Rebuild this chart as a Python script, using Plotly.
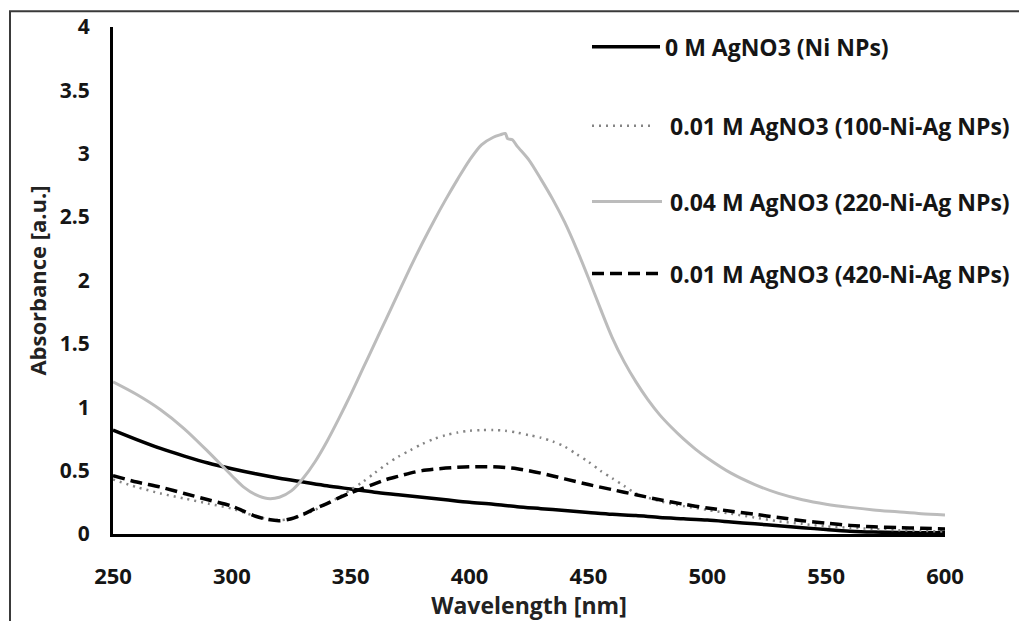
import plotly.graph_objects as go

# ---------------- data ----------------
names = [
    "0 M AgNO3 (Ni NPs)",
    "0.01 M AgNO3 (100-Ni-Ag NPs)",
    "0.04 M AgNO3 (220-Ni-Ag NPs)",
    "0.01 M AgNO3 (420-Ni-Ag NPs)",
]

wl_ni = [250, 260, 270, 280, 290, 300, 310, 320, 330, 340, 350, 360, 370, 380, 390,
         400, 410, 420, 430, 440, 450, 460, 470, 480, 490, 500, 510, 520, 530, 540,
         550, 560, 570, 580, 590, 600]
abs_ni = [0.82, 0.745, 0.675, 0.615, 0.56, 0.515, 0.475, 0.44, 0.41, 0.38, 0.355, 0.33,
          0.31, 0.29, 0.27, 0.25, 0.235, 0.215, 0.20, 0.185, 0.17, 0.155, 0.145, 0.13,
          0.12, 0.11, 0.095, 0.08, 0.065, 0.05, 0.035, 0.022, 0.015, 0.012, 0.01, 0.01]

wl_100 = [250, 260, 270, 280, 290, 300, 305, 310, 315, 320, 325, 330, 335, 340, 345, 350,
          355, 360, 365, 370, 375, 380, 385, 390, 395, 400, 405, 410, 415, 420, 425, 430,
          435, 440, 445, 450, 455, 460, 465, 470, 480, 490, 500, 510, 520, 530, 540, 550,
          560, 570, 580, 590, 600]
abs_100 = [0.43, 0.37, 0.32, 0.28, 0.24, 0.20, 0.17, 0.14, 0.12, 0.11, 0.12, 0.15, 0.19,
           0.24, 0.29, 0.35, 0.41, 0.48, 0.55, 0.61, 0.66, 0.71, 0.75, 0.78, 0.80, 0.815,
           0.82, 0.82, 0.815, 0.80, 0.78, 0.76, 0.73, 0.69, 0.63, 0.57, 0.50, 0.44, 0.38,
           0.32, 0.26, 0.22, 0.19, 0.16, 0.13, 0.10, 0.08, 0.06, 0.05, 0.04, 0.03, 0.025,
           0.02]

wl_220 = [250, 260, 270, 280, 290, 300, 305, 310, 315, 320, 325, 330, 335, 340, 345, 350,
          355, 360, 365, 370, 375, 380, 385, 390, 395, 400, 405, 410, 413, 415, 416, 418,
          420, 425, 430, 435, 440, 445, 450, 455, 460, 465, 470, 475, 480, 485, 490, 495,
          500, 510, 520, 530, 540, 550, 560, 570, 580, 590, 600]
abs_220 = [1.20, 1.10, 0.98, 0.83, 0.65, 0.46, 0.37, 0.31, 0.28, 0.29, 0.34, 0.44, 0.57,
           0.73, 0.91, 1.10, 1.30, 1.50, 1.70, 1.90, 2.10, 2.29, 2.47, 2.64, 2.80, 2.95,
           3.07, 3.13, 3.15, 3.16, 3.12, 3.11, 3.06, 2.95, 2.80, 2.64, 2.46, 2.25, 2.02,
           1.78, 1.55, 1.36, 1.20, 1.06, 0.94, 0.84, 0.75, 0.67, 0.60, 0.48, 0.39, 0.32,
           0.27, 0.235, 0.21, 0.19, 0.175, 0.16, 0.15]

wl_420 = [250, 260, 270, 280, 290, 300, 305, 310, 315, 320, 325, 330, 335, 340, 345, 350,
          355, 360, 365, 370, 375, 380, 390, 400, 410, 420, 430, 440, 450, 460, 470, 480,
          490, 500, 510, 520, 530, 540, 550, 560, 570, 580, 590, 600]
abs_420 = [0.46, 0.41, 0.37, 0.32, 0.27, 0.22, 0.18, 0.14, 0.115, 0.105, 0.12, 0.155,
           0.20, 0.24, 0.285, 0.325, 0.36, 0.395, 0.43, 0.455, 0.48, 0.50, 0.52, 0.53,
           0.53, 0.515, 0.48, 0.435, 0.39, 0.35, 0.31, 0.27, 0.235, 0.205, 0.18, 0.155,
           0.13, 0.105, 0.085, 0.068, 0.057, 0.05, 0.045, 0.04]

x_ticks = [250, 300, 350, 400, 450, 500, 550, 600]
y_ticks = [0, 0.5, 1, 1.5, 2, 2.5, 3, 3.5, 4]
y_tick_text = ["0", "0.5", "1", "1.5", "2", "2.5", "3", "3.5", "4"]

# ---------------- styles ----------------
FONT = "Open Sans"
styles = [
    dict(color="#000000", width=3.5, dash="solid"),
    dict(color="#858585", width=2.5, dash="2px,5px"),
    dict(color="#bcbcbc", width=3, dash="solid"),
    dict(color="#000000", width=3.5, dash="12px,6px"),
]
series = [(wl_ni, abs_ni), (wl_100, abs_100), (wl_220, abs_220), (wl_420, abs_420)]

fig = go.Figure()
for (xs, ys), nm, st in zip(series, names, styles):
    fig.add_trace(go.Scatter(x=xs, y=ys, mode="lines", name=nm,
                             line=dict(color=st["color"], width=st["width"],
                                       dash=st["dash"], shape="spline", smoothing=0.8),
                             showlegend=False))

# plot area in pixels: x 113..945, y 25..539
W, H = 1019, 621
L, R, T, B = 113, 945, 25, 539

def px(xp):
    return (xp - L) / (R - L)

def py(yp):
    return (B - yp) / (B - T)

shapes = []
annotations = []
# outer frame (top and left edges visible)
shapes.append(dict(type="rect", xref="paper", yref="paper",
                   x0=px(10), x1=px(1030), y0=py(640), y1=py(9),
                   line=dict(color="#3a3a3a", width=2), fillcolor="rgba(0,0,0,0)",
                   layer="below"))

# manual legend
legend_rows = [45, 125, 202, 275]
text_x = [663, 668, 668, 668]
sample_end = [660, 652, 662, 662]
for i, (nm, st) in enumerate(zip(names, styles)):
    yy = py(legend_rows[i])
    shapes.append(dict(type="line", xref="paper", yref="paper",
                       x0=px(592), x1=px(sample_end[i]), y0=yy, y1=yy,
                       line=dict(color=st["color"], width=st["width"], dash=st["dash"])))
    annotations.append(dict(xref="paper", yref="paper", x=px(text_x[i]), y=yy,
                            xanchor="left", yanchor="middle", showarrow=False,
                            text=nm, font=dict(family=FONT, size=23, color="#151515",
                                               weight="bold")))

fig.update_layout(
    width=W, height=H,
    margin=dict(l=L, r=W - R, t=T, b=H - B),
    paper_bgcolor="white", plot_bgcolor="white",
    font=dict(family=FONT, color="#111111"),
    shapes=shapes, annotations=annotations,
    showlegend=False,
)
fig.update_xaxes(range=[250, 600], tickvals=x_ticks, showgrid=False, zeroline=False,
                 showline=True, linecolor="#000000", linewidth=3, ticks="",
                 ticklabelstandoff=21,
                 tickfont=dict(family=FONT, size=22, color="#151515", weight="bold"),
                 title=dict(text="Wavelength [nm]", standoff=2,
                            font=dict(family=FONT, size=23, color="#222222", weight="bold")))
fig.update_yaxes(range=[0, 4], tickvals=y_ticks, ticktext=y_tick_text, showgrid=False,
                 zeroline=False, showline=True, linecolor="#000000", linewidth=3, ticks="",
                 ticklabelstandoff=16,
                 tickfont=dict(family=FONT, size=21, color="#151515", weight="bold"),
                 title=dict(text="Absorbance [a.u.]", standoff=8,
                            font=dict(family=FONT, size=22, color="#222222", weight="bold")))

fig.write_html("out.html")
